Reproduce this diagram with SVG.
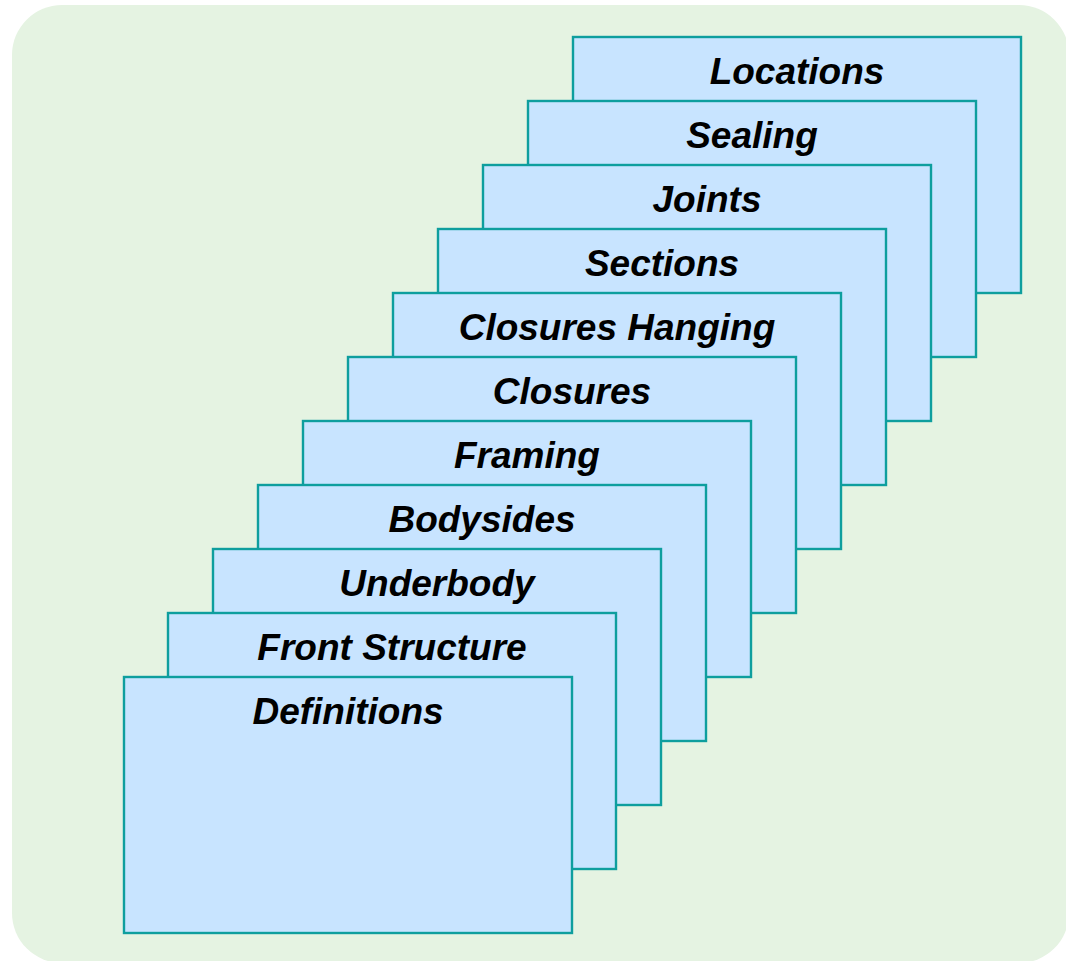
<svg xmlns="http://www.w3.org/2000/svg" width="1066" height="961" viewBox="0 0 1066 961">
<style>
.card rect{fill:#C8E4FF;stroke:#0E9E9E;stroke-width:2.4}
.card text{font-family:"Liberation Sans",Arial,sans-serif;font-size:37px;font-weight:bold;font-style:italic;fill:#000;text-anchor:middle}
</style>
<rect x="12" y="5" width="1057" height="958" rx="50" ry="50" fill="#E5F3E2"/>
<g id="connectors"/>
<g id="locations" class="card"><rect x="573" y="37" width="448" height="256"/><text x="797" y="84">Locations</text></g>
<g id="sealing" class="card"><rect x="528" y="101" width="448" height="256"/><text x="752" y="148">Sealing</text></g>
<g id="joints" class="card"><rect x="483" y="165" width="448" height="256"/><text x="707" y="212">Joints</text></g>
<g id="sections" class="card"><rect x="438" y="229" width="448" height="256"/><text x="662" y="276">Sections</text></g>
<g id="closures-hanging" class="card"><rect x="393" y="293" width="448" height="256"/><text x="617" y="340">Closures Hanging</text></g>
<g id="closures" class="card"><rect x="348" y="357" width="448" height="256"/><text x="572" y="404">Closures</text></g>
<g id="framing" class="card"><rect x="303" y="421" width="448" height="256"/><text x="527" y="468">Framing</text></g>
<g id="bodysides" class="card"><rect x="258" y="485" width="448" height="256"/><text x="482" y="532">Bodysides</text></g>
<g id="underbody" class="card"><rect x="213" y="549" width="448" height="256"/><text x="437" y="596">Underbody</text></g>
<g id="front-structure" class="card"><rect x="168" y="613" width="448" height="256"/><text x="392" y="660">Front Structure</text></g>
<g id="definitions" class="card"><rect x="124" y="677" width="448" height="256"/><text x="348" y="724">Definitions</text></g>
</svg>
